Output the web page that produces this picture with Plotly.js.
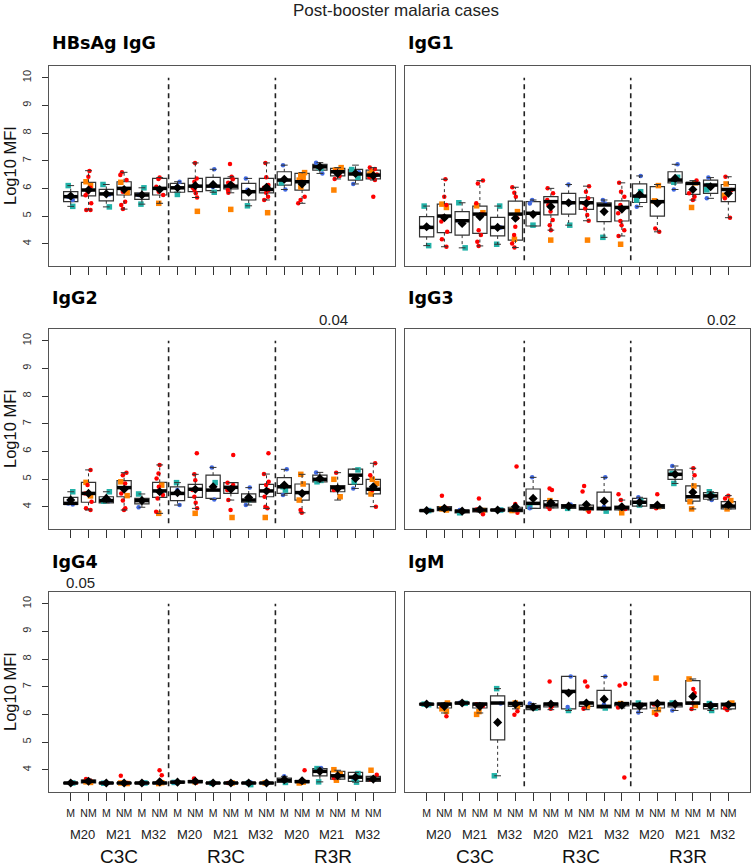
<!DOCTYPE html>
<html><head><meta charset="utf-8">
<script src="https://cdn.plot.ly/plotly-3.0.1.min.js"></script>
<style>html,body{margin:0;padding:0;background:#fff}</style>
</head><body><div id="chart" style="width:751px;height:868px"></div>
<script>
// ---------- labels ----------
const mainTitle = "Post-booster malaria cases";
const panelNames = ["HBsAg IgG", "IgG1", "IgG2", "IgG3", "IgG4", "IgM"];
const statusLabels = ["M","NM","M","NM","M","NM","M","NM","M","NM","M","NM","M","NM","M","NM","M","NM"];
const timepoints = ["M20", "M21", "M32"];
const groups = ["C3C", "R3C", "R3R"];
const groupBreaks = [6.5, 12.5];
const yTicks = [4, 5, 6, 7, 8, 9, 10];
const pvalText = ["", "", "0.04", "0.02", "0.05", ""];
const pvalPos = [null, null, 15.75, 17.6, 1.56, null];

// ---------- HBsAg IgG ----------
const hb_q1  = [5.52,5.73,5.55,5.76,5.60,5.76,5.86,5.88,5.92,5.98,5.58,5.84,6.12,5.94,6.66,6.45,6.30,6.34];
const hb_med = [5.70,5.94,5.80,6.00,5.76,6.00,6.02,6.08,6.08,6.08,5.88,5.96,6.30,6.24,6.78,6.60,6.52,6.48];
const hb_q3  = [5.88,6.22,5.96,6.24,5.84,6.36,6.18,6.36,6.40,6.36,6.18,6.36,6.60,6.54,6.87,6.72,6.69,6.66];
const hb_lo  = [5.35,5.22,5.33,5.25,5.43,5.46,5.86,5.67,5.86,5.84,5.37,5.58,5.96,5.46,6.54,6.34,6.16,6.30];
const hb_hi  = [6.10,6.64,6.14,6.58,6.02,6.39,6.24,6.92,6.69,6.42,6.36,6.92,6.84,6.57,6.93,6.75,6.84,6.75];
const hb_mean= [5.72,5.94,5.80,5.96,5.76,5.96,6.02,6.10,6.14,6.12,5.86,6.04,6.33,6.16,6.78,6.54,6.54,6.46];
const hb_sq = [[6.10,5.35],[6.24,6.10],[6.14,5.33],[6.22,5.85],[6.02,5.43],[5.46],[5.78],[5.17],[5.86],[5.24],[5.37],[5.12],[6.20],[6.57,6.48,6.40,6.30,6.05],[6.78,6.72],[6.75,6.66,5.94],[6.68,6.40],[6.62,6.52,6.44]];
const hb_ci = [[5.70,5.58],[6.63,6.42,6.02,5.85,5.75,5.46,5.22,5.22],[5.78],[6.58,6.48,6.30,5.88,5.52,5.40,5.25],[5.76],[6.39,6.34,6.06,5.88,5.76],[6.24,6.05],[6.92,6.36,6.24,6.12,5.94,5.82,5.67,6.02],[6.69,6.05],[6.88,6.42,6.33,6.20,6.12,5.94,5.84],[6.36,5.95],[6.92,6.40,6.12,6.02,5.94,5.84,5.58,5.70],[6.84,5.96],[6.24,5.70,5.58,5.46],[6.93,6.54],[6.34,6.45,6.60],[6.16,6.58],[6.75,6.70,6.50,6.40,6.30,5.70]];

// ---------- IgG1 ----------
const g1_q1  = [4.25,4.40,4.31,4.37,4.28,4.13,4.64,5.04,5.07,5.24,4.80,4.82,5.49,5.00,6.20,5.78,5.82,5.52];
const g1_med = [4.59,5.00,4.83,5.07,4.59,5.07,5.10,5.52,5.48,5.48,5.40,5.31,5.72,5.52,6.30,6.18,6.12,5.96];
const g1_q3  = [4.98,5.43,5.16,5.36,4.95,5.54,5.52,5.70,5.82,5.66,5.48,5.55,6.16,6.06,6.60,6.20,6.30,6.14];
const g1_lo  = [3.93,3.89,3.85,3.92,3.98,3.86,4.64,4.49,4.67,4.83,4.23,4.28,5.34,4.43,5.96,5.58,5.64,4.94];
const g1_hi  = [5.36,6.33,5.48,6.28,5.36,6.04,5.58,6.00,6.14,6.08,5.58,6.20,6.45,6.14,6.87,6.28,6.39,6.42];
const g1_mean= [4.61,4.94,4.73,4.98,4.59,4.92,5.06,5.34,5.48,5.46,5.16,5.25,5.78,5.46,6.36,5.96,6.06,5.82];
const g1_sq = [[5.36,3.93],[5.43,5.31],[5.48,3.85],[5.37,5.12],[5.36,3.98],[5.16,4.16],[4.67],[4.13],[4.67],[4.13],[4.23],[3.98],[5.88,5.58],[6.10,5.55],[6.40,6.22],[6.20,5.31],[6.10,5.95],[6.16,5.75]];
const g1_ci = [[4.60],[6.33,5.70,5.40,4.98,4.80,4.43,4.16,3.89],[4.80],[6.28,6.18,5.46,5.07,4.49,4.31,4.07,3.92],[4.59],[6.04,5.84,5.70,4.92,4.61,4.31,4.01,3.86],[5.58,5.45],[6.00,5.82,5.58,5.40,5.16,4.86,4.67,4.49],[6.14,5.48],[6.08,5.88,5.64,5.46,5.27,5.04,4.83],[5.58,5.45],[6.20,5.88,5.70,5.40,5.10,4.82,4.67,4.49,4.28],[6.45,5.34],[4.55,4.43],[6.87,5.96],[6.28,5.82,5.70,5.58],[6.39,5.64],[6.42,5.94,5.64,4.94]];

// ---------- IgG2 ----------
const g2_q1  = [4.08,4.16,4.14,4.36,4.10,4.34,4.22,4.34,4.30,4.48,4.16,4.36,4.48,4.24,4.90,4.54,4.81,4.46];
const g2_med = [4.12,4.48,4.22,4.69,4.22,4.57,4.48,4.63,4.60,4.70,4.24,4.57,4.72,4.51,4.99,4.69,5.14,4.63];
const g2_q3  = [4.34,4.88,4.36,4.94,4.30,4.88,4.72,4.81,5.14,4.87,4.46,4.81,5.05,4.82,5.14,4.76,5.36,4.99];
const g2_lo  = [4.08,3.88,4.14,3.88,3.98,3.76,4.06,3.94,4.26,4.24,4.06,3.94,4.42,3.78,4.90,4.24,4.66,4.00];
const g2_hi  = [4.54,5.33,4.54,5.23,4.46,5.51,4.87,5.17,5.42,4.87,4.69,5.18,5.35,5.17,5.24,5.23,5.36,5.57];
const g2_mean= [4.24,4.48,4.30,4.63,4.22,4.54,4.51,4.63,4.72,4.63,4.33,4.57,4.78,4.48,5.02,4.66,5.02,4.72];
const g2_sq = [[4.54],[4.88,4.39],[4.54,4.20],[4.90,4.40],[4.46],[4.78,3.76],[4.87],[3.76],[4.87],[3.61],[4.26],[3.61],[4.72,4.60],[5.17,4.82,4.24],[4.90,4.95],[4.99,4.36],[5.33,4.90],[4.99,4.84,4.46]];
const g2_ci = [[4.08,4.12],[5.33,4.78,4.48,4.18,3.94,3.88],[4.22],[5.23,5.14,4.84,4.48,4.22,3.94,3.88],[3.98,4.22],[5.51,5.20,5.02,4.72,4.42,4.30,3.82],[4.60,4.06],[5.93,5.17,4.96,4.60,4.36,4.14,3.94],[5.42,4.26],[5.87,4.87,4.78,4.60,4.24,3.88],[4.69,4.06],[5.93,5.18,4.90,4.78,4.60,4.36,4.00,3.94],[5.35,4.42],[3.88,3.78],[5.24],[5.23,4.60],[4.66],[5.57,5.14,4.60,4.00]];

// ---------- IgG3 ----------
const g3_q1  = [3.84,3.86,3.78,3.81,3.86,3.82,3.94,3.96,3.94,3.88,3.88,3.88,4.02,3.94,4.99,4.20,4.27,3.92];
const g3_med = [3.86,3.92,3.84,3.88,3.88,3.88,4.12,4.06,4.02,3.94,3.94,3.96,4.16,4.02,5.17,4.36,4.39,4.02];
const g3_q3  = [3.88,4.00,3.88,3.94,3.90,3.98,4.64,4.22,4.08,4.06,4.53,4.02,4.30,4.08,5.33,4.75,4.51,4.18];
const g3_lo  = [3.84,3.86,3.78,3.81,3.86,3.82,3.94,3.96,3.94,3.88,3.88,3.88,4.02,3.94,4.84,3.92,4.24,3.92];
const g3_hi  = [3.88,4.00,3.88,3.94,3.90,3.98,5.06,4.22,4.08,4.06,5.06,4.24,4.34,4.08,5.47,5.39,4.54,4.40];
const g3_mean= [3.86,3.94,3.84,3.90,3.88,4.00,4.30,4.14,4.02,4.08,4.20,4.00,4.16,4.06,5.17,4.52,4.39,4.08];
const g3_sq = [[3.86],[3.88,3.92],[3.78],[3.86],[3.88],[3.86],[4.00],[4.22],[3.94],[3.90],[3.84],[3.78],[4.06,4.20],[4.00],[4.84,5.20],[4.75,4.18,3.92],[4.54,4.40],[4.22,3.92]];
const g3_ci = [[3.87],[4.40,3.95],[3.88],[4.30,3.73,3.90],[3.88],[5.45,4.10,3.78],[5.06,3.94],[4.66,4.60,3.92,4.00],[4.08],[4.75,4.55,3.82],[5.06,4.00],[4.45,4.24,3.92],[4.34],[4.45,3.94],[5.47],[5.39,5.14],[4.24],[4.40,4.30,4.05]];

// ---------- IgG4 ----------
const g4_q1  = [3.50,3.52,3.50,3.50,3.50,3.50,3.52,3.53,3.50,3.50,3.50,3.50,3.54,3.53,3.78,3.66,3.58,3.58];
const g4_med = [3.52,3.58,3.52,3.52,3.52,3.52,3.55,3.57,3.52,3.52,3.52,3.52,3.62,3.57,3.94,3.78,3.73,3.66];
const g4_q3  = [3.53,3.62,3.53,3.53,3.53,3.54,3.58,3.61,3.53,3.53,3.53,3.53,3.70,3.61,4.04,3.94,3.90,3.76];
const g4_lo  = [3.50,3.52,3.50,3.50,3.50,3.50,3.52,3.53,3.50,3.50,3.50,3.50,3.54,3.53,3.56,3.66,3.55,3.58];
const g4_hi  = [3.53,3.66,3.53,3.53,3.53,3.54,3.58,3.61,3.53,3.53,3.53,3.53,3.76,3.61,4.06,3.98,3.90,3.76];
const g4_mean= [3.52,3.58,3.52,3.52,3.52,3.56,3.55,3.58,3.52,3.52,3.52,3.52,3.64,3.60,3.94,3.78,3.73,3.66];
const g4_sq = [[3.52],[3.56,3.54],[3.51],[3.52,3.50],[3.52],[3.50,3.53],[3.54],[3.56],[3.51],[3.52],[3.46,3.52],[3.52],[3.54],[3.55,3.52],[4.04,3.56],[4.00,3.84,3.62],[3.86,3.68,3.55],[3.98]];
const g4_ci = [[3.52],[3.66,3.60],[3.52],[3.78,3.52],[3.52],[3.98,3.80,3.52],[3.55],[3.68,3.54],[3.52],[3.52],[3.54],[3.52],[3.76],[3.98,3.56],[4.06],[3.70],[3.70],[3.82,3.64]];

// ---------- IgM ----------
const gm_q1  = [6.34,6.23,6.38,6.23,5.08,6.29,6.17,6.27,6.20,6.29,6.23,6.31,6.20,6.23,6.27,6.37,6.20,6.20];
const gm_med = [6.37,6.37,6.41,6.37,6.41,6.39,6.27,6.37,6.83,6.41,6.29,6.39,6.35,6.39,6.37,6.41,6.33,6.35];
const gm_q3  = [6.39,6.41,6.43,6.41,6.67,6.43,6.33,6.41,7.37,6.43,6.87,6.41,6.41,6.43,6.41,7.22,6.39,6.41];
const gm_lo  = [6.34,6.05,6.38,6.05,3.78,6.20,6.17,6.17,6.14,6.17,6.23,6.23,6.07,6.13,6.14,6.17,6.14,6.17];
const gm_hi  = [6.39,6.41,6.43,6.41,6.93,6.43,6.39,6.41,7.37,6.43,7.37,6.41,6.41,6.43,6.41,7.28,6.39,6.41];
const gm_mean= [6.37,6.29,6.41,6.29,5.71,6.37,6.26,6.37,6.77,6.41,6.55,6.33,6.30,6.39,6.37,6.65,6.31,6.35];
const gm_sq = [[6.37,6.35],[6.41,6.11,6.20],[6.40],[6.00,6.10],[6.93,3.78],[6.41,6.28],[6.23],[],[6.14],[6.30],[6.23],[6.39],[6.41],[7.31,6.17,6.07],[6.41],[7.28,6.32],[6.39,6.14],[6.41,6.28]];
const gm_ci = [[6.37],[5.93,6.30],[6.42],[6.37,6.30],[6.39],[6.11,5.99],[6.39],[7.19,6.30,6.20],[7.37,6.27],[7.19,7.01,6.20],[7.37,6.37],[7.11,7.04,6.25,3.72],[6.07],[5.99,6.36],[6.14],[6.92,6.77,6.40,6.19],[6.36],[6.16,6.22]];

// ---------- assemble ----------
const panels = [
  {q1:hb_q1,med:hb_med,q3:hb_q3,lo:hb_lo,hi:hb_hi,mean:hb_mean,sq:hb_sq,ci:hb_ci},
  {q1:g1_q1,med:g1_med,q3:g1_q3,lo:g1_lo,hi:g1_hi,mean:g1_mean,sq:g1_sq,ci:g1_ci},
  {q1:g2_q1,med:g2_med,q3:g2_q3,lo:g2_lo,hi:g2_hi,mean:g2_mean,sq:g2_sq,ci:g2_ci},
  {q1:g3_q1,med:g3_med,q3:g3_q3,lo:g3_lo,hi:g3_hi,mean:g3_mean,sq:g3_sq,ci:g3_ci},
  {q1:g4_q1,med:g4_med,q3:g4_q3,lo:g4_lo,hi:g4_hi,mean:g4_mean,sq:g4_sq,ci:g4_ci},
  {q1:gm_q1,med:gm_med,q3:gm_q3,lo:gm_lo,hi:gm_hi,mean:gm_mean,sq:gm_sq,ci:gm_ci}
];

const W = 751, H = 868;
const colPx = [[49, 395], [405, 750]];
const rowPx = [[66, 266], [329, 529], [592, 792]];
const titleRowY = [43, 298, 562];
const COL = {mSq:'#22B2A8', mCi:'#4169E1', nmSq:'#FF8200', nmCi:'#FF0000'};
const FONT = 'Liberation Sans, Arial, sans-serif';
const BW = 0.8, CAP = 0.19;
const positions = panels[0].q1.map((_, i) => i + 1);

const data = [];
const layout = {
  width: W, height: H, margin: {l:0, r:0, t:0, b:0},
  paper_bgcolor: '#fff', plot_bgcolor: '#fff', showlegend: false,
  boxmode: 'overlay', font: {family: FONT, color: '#222'},
  shapes: [], annotations: []
};

function collect(arrs, wantM) {
  const xs = [], ys = [];
  arrs.forEach((vals, i) => {
    if ((i % 2 === 0) !== wantM) return;
    vals.forEach(v => { xs.push(i + 1); ys.push(v); });
  });
  return {xs, ys};
}

panels.forEach((p, k) => {
  const suf = k === 0 ? '' : String(k + 1);
  const xa = 'x' + suf, ya = 'y' + suf;
  const col = k % 2, row = Math.floor(k / 2);
  const left = col === 0, bottom = row === 2;

  layout['xaxis' + suf] = {
    domain: [colPx[col][0] / W, colPx[col][1] / W], anchor: ya,
    range: [0.5 - 0.72, 18.5 + 0.72], tickmode: 'array', tickvals: positions,
    ticktext: statusLabels, showticklabels: bottom, ticks: 'outside', ticklen: 8,
    tickwidth: 1, tickcolor: '#333', ticklabelstandoff: 3,
    tickfont: {size: 10.5, family: FONT, color: '#222'},
    showline: true, mirror: true, linecolor: '#555', linewidth: 1.4,
    showgrid: false, zeroline: false, fixedrange: true
  };
  layout['yaxis' + suf] = {
    domain: [1 - rowPx[row][1] / H, 1 - rowPx[row][0] / H], anchor: xa,
    range: [3.194, 10.423], tickmode: 'array', tickvals: yTicks,
    showticklabels: left, ticks: left ? 'outside' : '', ticklen: 6, tickwidth: 1,
    tickcolor: '#333', tickangle: -90, ticklabelstandoff: 6,
    tickfont: {size: 11, family: FONT, color: '#333'},
    showline: true, mirror: true, linecolor: '#555', linewidth: 1.4,
    showgrid: false, zeroline: false, fixedrange: true
  };

  // boxes (no whiskers; drawn separately dashed)
  data.push({
    type: 'box', xaxis: xa, yaxis: ya, x: positions,
    q1: p.q1, median: p.med, q3: p.q3, lowerfence: p.q1, upperfence: p.q3,
    width: BW, whiskerwidth: 0, boxpoints: false,
    line: {color: '#333', width: 1.2}, fillcolor: 'rgba(0,0,0,0)', hoverinfo: 'skip'
  });

  // jittered points
  const groupsPts = [
    {arr: p.sq, m: true, sym: 'square', size: 5.5, c: COL.mSq},
    {arr: p.ci, m: true, sym: 'circle', size: 4.5, c: COL.mCi},
    {arr: p.sq, m: false, sym: 'square', size: 5.5, c: COL.nmSq},
    {arr: p.ci, m: false, sym: 'circle', size: 4.5, c: COL.nmCi}
  ];
  groupsPts.forEach(g => {
    const {xs, ys} = collect(g.arr, g.m);
    data.push({
      type: 'box', xaxis: xa, yaxis: ya, x: xs, y: ys,
      boxpoints: 'all', jitter: 0.55, pointpos: 0, width: BW,
      line: {width: 0, color: 'rgba(0,0,0,0)'}, fillcolor: 'rgba(0,0,0,0)',
      marker: {symbol: g.sym, size: g.size, color: g.c, line: {width: 0}},
      hoverinfo: 'skip'
    });
  });

  // whiskers (dashed) and staples
  const wx = [], wy = [], sx = [], sy = [], mx = [], my = [];
  positions.forEach((x, i) => {
    if (p.hi[i] > p.q3[i]) { wx.push(x, x, null); wy.push(p.q3[i], p.hi[i], null); }
    if (p.lo[i] < p.q1[i]) { wx.push(x, x, null); wy.push(p.q1[i], p.lo[i], null); }
    sx.push(x - CAP, x + CAP, null, x - CAP, x + CAP, null);
    sy.push(p.hi[i], p.hi[i], null, p.lo[i], p.lo[i], null);
    mx.push(x - BW / 2, x + BW / 2, null);
    my.push(p.med[i], p.med[i], null);
  });
  data.push({type: 'scatter', mode: 'lines', xaxis: xa, yaxis: ya, x: wx, y: wy,
    line: {color: '#333', width: 1, dash: '3px,3px'}, hoverinfo: 'skip'});
  data.push({type: 'scatter', mode: 'lines', xaxis: xa, yaxis: ya, x: sx, y: sy,
    line: {color: '#333', width: 1}, hoverinfo: 'skip'});
  data.push({type: 'scatter', mode: 'lines', xaxis: xa, yaxis: ya, x: mx, y: my,
    line: {color: '#000', width: 3.5}, hoverinfo: 'skip'});
  data.push({type: 'scatter', mode: 'markers', xaxis: xa, yaxis: ya, x: positions, y: p.mean,
    marker: {symbol: 'diamond', size: 7, color: '#000'}, hoverinfo: 'skip'});

  // group separators
  groupBreaks.forEach(b => layout.shapes.push({
    type: 'line', xref: xa, yref: ya, x0: b, x1: b, y0: 3.4, y1: 10,
    line: {color: '#222', width: 1.6, dash: '5px,4px'}
  }));

  // panel title
  layout.annotations.push({
    text: '<b>' + panelNames[k] + '</b>', xref: 'paper', yref: 'paper',
    x: (colPx[col][0] + 1) / W, y: 1 - titleRowY[row] / H, xanchor: 'left', yanchor: 'middle',
    showarrow: false, font: {family: 'DejaVu Sans, Verdana, sans-serif', size: 17.5, color: '#000'}
  });
  // y title
  if (left) layout.annotations.push({
    text: 'Log10 MFI', textangle: -90, xref: 'paper', yref: 'paper',
    x: 10 / W, y: 1 - (rowPx[row][0] + rowPx[row][1]) / 2 / H, xanchor: 'center', yanchor: 'middle',
    showarrow: false, font: {family: FONT, size: 16.5, color: '#111'}
  });
  // p-values
  if (pvalText[k]) layout.annotations.push({
    text: pvalText[k], xref: xa, yref: 'paper', x: pvalPos[k],
    y: 1 - (rowPx[row][0] - 10) / H, xanchor: 'center', yanchor: 'middle',
    showarrow: false, font: {family: FONT, size: 15, color: '#222'}
  });
  // bottom labels
  if (bottom) {
    for (let j = 0; j < 9; j++) layout.annotations.push({
      text: timepoints[j % 3], xref: xa, yref: 'paper', x: 1.5 + 2 * j + 0.17,
      y: 1 - 834 / H, xanchor: 'center', yanchor: 'middle', showarrow: false,
      font: {family: FONT, size: 13, color: '#222'}
    });
    for (let g = 0; g < 3; g++) layout.annotations.push({
      text: groups[g], xref: xa, yref: 'paper', x: 3.5 + 6 * g + 0.22,
      y: 1 - 856 / H, xanchor: 'center', yanchor: 'middle', showarrow: false,
      font: {family: FONT, size: 19, color: '#111'}
    });
  }
});

layout.annotations.push({
  text: mainTitle, xref: 'paper', yref: 'paper', x: 396 / W, y: 1 - 11 / H,
  xanchor: 'center', yanchor: 'middle', showarrow: false,
  font: {family: FONT, size: 17, color: '#222'}
});

Plotly.newPlot('chart', data, layout, {staticPlot: true, displayModeBar: false});
</script></body></html>
